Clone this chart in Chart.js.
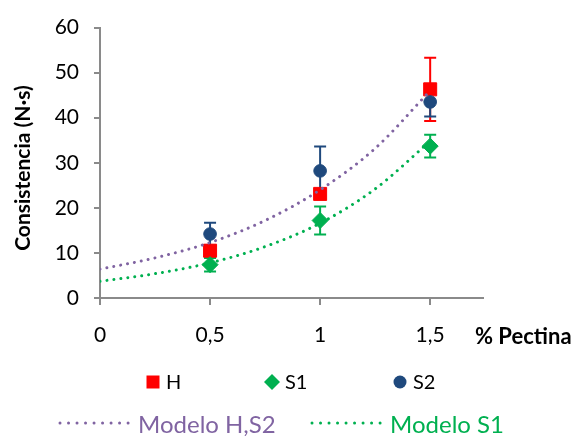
<!DOCTYPE html>
<html>
<head>
<meta charset="utf-8">
<script src="https://cdn.jsdelivr.net/npm/chart.js@4/dist/chart.umd.min.js"></script>
<style>
  html, body { margin: 0; padding: 0; background: #fff; }
  #wrap { position: relative; width: 572px; height: 436px; }
</style>
</head>
<body>
<div id="wrap"><canvas id="chart"></canvas></div>
<script>
// Pectin concentration (%) at which each sample was measured
const pectina = [0.5, 1, 1.5];

// Measured consistency (N·s) with standard deviation, per formulation
const hValues  = [10.5, 23.1, 46.3];
const hErrors  = [1.0, 1.0, 7.0];
const s1Values = [7.4, 17.2, 33.7];
const s1Errors = [1.5, 3.1, 2.5];
const s2Values = [14.2, 28.2, 43.5];
const s2Errors = [2.5, 5.4, 3.2];

// Fitted model curves, sampled along the pectin axis
const modelX    = [0, 0.25, 0.5, 0.75, 1, 1.25, 1.5];
const modelHS2  = [6.4, 8.9, 12.3, 17.2, 24.0, 33.2, 46.0];
const modelS1   = [3.7, 5.4, 7.8, 11.4, 16.6, 24.2, 34.8];

// Axis ticks and labels
const xTicks = [0, 0.5, 1, 1.5];
const yTicks = [0, 10, 20, 30, 40, 50, 60];
const xTitle = '% Pectina';
const yTitle = 'Consistencia (N·s)';

const RED = '#FF0000';
const GREEN = '#00B050';
const NAVY = '#1F497D';
const PURPLE = '#8064A2';
const AXIS_GRAY = '#8A8A8A';
const FONT = 'Lato, "Open Sans", sans-serif';

const toPoints = (xs, ys) => xs.map((x, i) => ({ x: x, y: ys[i] }));

const datasets = [
  { label: 'H', data: toPoints(pectina, hValues), errors: hErrors,
    pointStyle: 'rect', pointRadius: 9.2, backgroundColor: RED, borderColor: RED,
    pointBorderWidth: 1, showLine: false, order: 3 },
  { label: 'S1', data: toPoints(pectina, s1Values), errors: s1Errors,
    pointStyle: 'rectRot', pointRadius: 8, backgroundColor: GREEN, borderColor: GREEN,
    pointBorderWidth: 1, showLine: false, order: 2 },
  { label: 'S2', data: toPoints(pectina, s2Values), errors: s2Errors,
    pointStyle: 'circle', pointRadius: 6.3, backgroundColor: NAVY, borderColor: NAVY,
    pointBorderWidth: 1, showLine: false, order: 1 },
  { label: 'Modelo H,S2', data: toPoints(modelX, modelHS2), showLine: true,
    pointRadius: 0, borderColor: PURPLE, borderWidth: 3, borderDash: [0.01, 7],
    borderCapStyle: 'round', cubicInterpolationMode: 'monotone', fill: false, order: 0 },
  { label: 'Modelo S1', data: toPoints(modelX, modelS1), showLine: true,
    pointRadius: 0, borderColor: GREEN, borderWidth: 3, borderDash: [0.01, 7],
    borderCapStyle: 'round', cubicInterpolationMode: 'monotone', fill: false, order: 0 }
];

// Vertical error bars with caps, drawn beneath the markers
const errorBars = {
  id: 'errorBars',
  beforeDatasetsDraw(chart) {
    const { ctx, scales: { x, y } } = chart;
    ctx.save();
    chart.data.datasets.forEach(ds => {
      if (!ds.errors) return;
      ctx.strokeStyle = ds.borderColor;
      ctx.lineWidth = 2;
      ds.data.forEach((p, i) => {
        const e = ds.errors[i];
        const px = x.getPixelForValue(p.x);
        const top = y.getPixelForValue(p.y + e);
        const bot = y.getPixelForValue(p.y - e);
        ctx.beginPath();
        ctx.moveTo(px, top); ctx.lineTo(px, bot);
        ctx.moveTo(px - 6, top); ctx.lineTo(px + 6, top);
        ctx.moveTo(px - 6, bot); ctx.lineTo(px + 6, bot);
        ctx.stroke();
      });
    });
    ctx.restore();
  }
};

// Axis titles placed beside the plot
const axisTitles = {
  id: 'axisTitles',
  afterDraw(chart) {
    const ctx = chart.ctx;
    ctx.save();
    ctx.fillStyle = '#000';
    ctx.font = 'bold 22px ' + FONT;
    ctx.textAlign = 'left';
    ctx.textBaseline = 'alphabetic';
    ctx.fillText(xTitle, 475, 344);
    ctx.font = 'bold 21px ' + FONT;
    ctx.translate(23, 168);
    ctx.rotate(-Math.PI / 2);
    ctx.textAlign = 'center';
    ctx.textBaseline = 'middle';
    ctx.fillText(yTitle, 0, 0);
    ctx.restore();
  }
};

// Two-row legend: markers on top, dotted model lines below
const legendRows = {
  id: 'legendRows',
  afterDraw(chart) {
    const ctx = chart.ctx;
    const ds = chart.data.datasets;
    ctx.save();
    const markerRow = [
      { d: ds[0], cx: 153 }, { d: ds[1], cx: 272 }, { d: ds[2], cx: 400 }
    ];
    const my = 382;
    markerRow.forEach(({ d, cx }) => {
      ctx.fillStyle = d.backgroundColor;
      ctx.beginPath();
      if (d.pointStyle === 'rect') {
        ctx.rect(cx - 6.5, my - 6.5, 13, 13);
      } else if (d.pointStyle === 'rectRot') {
        ctx.moveTo(cx, my - 8); ctx.lineTo(cx + 8, my);
        ctx.lineTo(cx, my + 8); ctx.lineTo(cx - 8, my); ctx.closePath();
      } else {
        ctx.arc(cx, my, 6.5, 0, Math.PI * 2);
      }
      ctx.fill();
      ctx.fillStyle = '#000';
      ctx.font = '20px ' + FONT;
      ctx.textAlign = 'left';
      ctx.textBaseline = 'middle';
      ctx.fillText(d.label, cx + 13, my + 1);
    });

    const lineRow = [
      { d: ds[3], x0: 60, x1: 128, tx: 138 },
      { d: ds[4], x0: 312, x1: 380, tx: 390 }
    ];
    const ly = 423;
    lineRow.forEach(({ d, x0, x1, tx }) => {
      ctx.strokeStyle = d.borderColor;
      ctx.lineWidth = 3;
      ctx.lineCap = 'round';
      ctx.setLineDash([0.01, 8.5]);
      ctx.beginPath();
      ctx.moveTo(x0, ly); ctx.lineTo(x1 + 1, ly);
      ctx.stroke();
      ctx.setLineDash([]);
      ctx.fillStyle = d.borderColor;
      ctx.font = '24px ' + FONT;
      ctx.textAlign = 'left';
      ctx.textBaseline = 'alphabetic';
      ctx.fillText(d.label, tx, 433);
    });
    ctx.restore();
  }
};

const tickFont = { family: FONT, size: 21 };

new Chart(document.getElementById('chart'), {
  type: 'scatter',
  data: { datasets: datasets },
  options: {
    responsive: true,
    maintainAspectRatio: false,
    animation: false,
    layout: { padding: { top: 24, right: 89, left: 0, bottom: 0 } },
    plugins: { legend: { display: false }, tooltip: { enabled: false } },
    scales: {
      x: {
        type: 'linear', min: 0, max: 1.74,
        afterBuildTicks: s => { s.ticks = xTicks.map(v => ({ value: v })); },
        afterFit: s => { s.height = 138; },
        grid: { drawOnChartArea: false, drawTicks: true, tickLength: 7, color: AXIS_GRAY, lineWidth: 2 },
        border: { color: AXIS_GRAY, width: 2 },
        ticks: { font: tickFont, color: '#000', padding: 18,
                 callback: v => String(v).replace('.', ',') }
      },
      y: {
        type: 'linear', min: 0, max: 60,
        afterBuildTicks: s => { s.ticks = yTicks.map(v => ({ value: v })); },
        afterFit: s => { s.width = 100; },
        grid: { drawOnChartArea: false, drawTicks: true, tickLength: 6, color: AXIS_GRAY, lineWidth: 2 },
        border: { color: AXIS_GRAY, width: 2 },
        ticks: { font: tickFont, color: '#000', padding: 15 }
      }
    }
  },
  plugins: [errorBars, axisTitles, legendRows]
});
</script>
</body>
</html>
